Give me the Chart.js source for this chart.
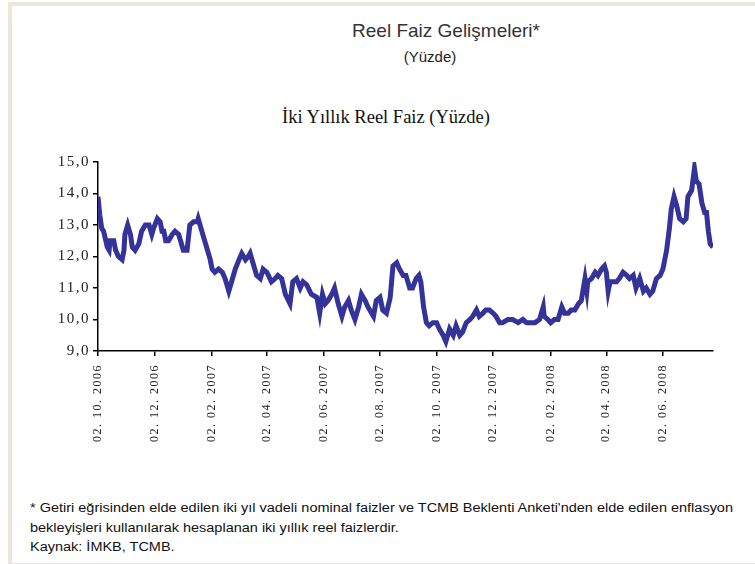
<!DOCTYPE html>
<html lang="tr">
<head>
<meta charset="utf-8">
<script src="https://cdn.jsdelivr.net/npm/chart.js@4/dist/chart.umd.min.js"></script>
<style>
    html, body { margin: 0; padding: 0; background: #fff; }
    body { width: 755px; height: 564px; position: relative; overflow: hidden; }
    .frame { position: absolute; left: 8px; top: 2px; right: -10px; bottom: 0;
             border-left: 4px solid #ece7d8; border-top: 4px solid #ece7d8;
             border-bottom: 1px solid #e4e4e4; }
    .t { position: absolute; white-space: nowrap; color: #333; }
    #title { left: 446px; top: 20px; transform: translateX(-50%);
             font: 19px 'Liberation Sans', Arial, sans-serif; }
    #unit { left: 430px; top: 48px; transform: translateX(-50%);
            font: 15px 'Liberation Sans', Arial, sans-serif; color: #222; }
    #sub { left: 386px; top: 107px; transform: translateX(-50%);
           font: 18.5px 'Liberation Serif', 'Times New Roman', serif; color: #111; }
    .note { left: 30px; font: 12px 'Liberation Sans', Arial, sans-serif; color: #111;
            transform-origin: 0 0; }
    #chartBox { position: absolute; left: 0; top: 150px; width: 725px; height: 320px; }
</style>
</head>
<body>
<div class="frame"></div>
<div class="t" id="title">Reel Faiz Gelişmeleri*</div>
<div class="t" id="unit">(Yüzde)</div>
<div class="t" id="sub">İki Yıllık Reel Faiz (Yüzde)</div>
<div id="chartBox"><canvas id="realRate"></canvas></div>
<div class="t note" id="n1" style="top:501px">* Getiri eğrisinden elde edilen iki yıl vadeli nominal faizler ve TCMB Beklenti Anketi'nden elde edilen enflasyon</div>
<div class="t note" id="n2" style="top:521px">bekleyişleri kullanılarak hesaplanan iki yıllık reel faizlerdir.</div>
<div class="t note" id="n3" style="top:540px">Kaynak: İMKB, TCMB.</div>

<script>
// days counted from 02.10.2006
const days = [
    0, 2, 4, 6, 10, 12, 13, 17, 19, 22, 26, 28, 29, 32, 35, 37, 40, 44, 47, 51,
    55, 58, 60, 64, 67, 69, 71, 73, 76, 80, 83, 87, 89, 92, 96, 99, 103, 107, 108, 110,
    114, 117, 121, 123, 126, 130, 134, 137, 141, 144, 148, 152, 155, 159, 162,
    164, 167, 171, 175, 178, 182, 187, 191, 194, 198, 202, 207, 210, 214, 218,
    221, 225, 230, 236, 239, 242, 245, 248, 252, 255, 259, 263, 266, 270, 273,
    277, 281, 284, 288, 291, 297, 300, 304, 307, 311, 315, 318, 322, 325, 329,
    332, 336, 339, 343, 346, 348, 351, 354, 357, 361, 365, 368, 372, 375, 379,
    383, 386, 390, 393, 397, 401, 404, 408, 411, 415, 418, 422, 426, 429, 433,
    436, 442, 447, 453, 458, 462, 465, 471, 476, 480, 481, 485, 488, 492,
    496, 500, 503, 507, 510, 514, 518, 521, 525, 527, 528, 532, 536, 539, 543,
    546, 548, 550, 552, 555, 559, 562, 566, 570, 573, 577, 580, 584, 588, 591,
    595, 598, 602, 606, 609, 613, 616, 618, 621, 624, 627, 631, 634, 636, 640,
    643, 645, 648, 651, 654, 656, 658, 660, 663
];

const realRate = [
    13.9, 13.3, 12.9, 12.8, 12.3, 12.2, 12.5, 12.5, 12.2, 12.0, 11.9, 12.2, 12.7, 13.0, 12.7, 12.3, 12.2, 12.4, 12.8, 13.0,
    13.0, 12.7, 12.9, 13.2, 13.1, 12.8, 12.8, 12.5, 12.5, 12.7, 12.8, 12.7, 12.5, 12.2, 12.2, 13.0, 13.1, 13.1, 13.2, 13.0,
    12.6, 12.3, 11.9, 11.6, 11.5, 11.6, 11.5, 11.3, 10.9, 11.2, 11.6, 11.9, 12.1, 11.9, 12.0,
    12.1, 11.8, 11.4, 11.3, 11.6, 11.5, 11.2, 11.3, 11.4, 11.3, 10.8, 10.5, 11.2, 11.3, 11.0,
    11.2, 11.1, 10.8, 10.7, 10.2, 10.8, 10.5, 10.6, 10.8, 11.0, 10.5, 10.1, 10.4, 10.6, 10.3,
    10.0, 10.4, 10.8, 10.6, 10.4, 10.1, 10.6, 10.7, 10.3, 10.2, 10.7, 11.7, 11.8, 11.6, 11.4,
    11.4, 11.0, 11.0, 11.3, 11.4, 11.2, 10.4, 9.9, 9.8, 9.9, 9.9, 9.7, 9.5, 9.3, 9.7,
    9.5, 9.8, 9.5, 9.6, 9.9, 10.0, 10.1, 10.3, 10.1, 10.2, 10.3, 10.3, 10.2, 10.1, 9.9,
    9.9, 10.0, 10.0, 9.9, 10.0, 9.9, 9.9, 9.9, 10.0, 10.4, 10.1, 10.0, 9.9, 10.0,
    10.0, 10.4, 10.2, 10.2, 10.3, 10.3, 10.5, 10.6, 11.3, 10.9, 11.2, 11.3, 11.5, 11.4, 11.6,
    11.7, 11.5, 10.9, 11.2, 11.2, 11.2, 11.3, 11.5, 11.4, 11.3, 11.4, 11.0, 11.3, 10.9, 11.0,
    10.8, 10.9, 11.3, 11.4, 11.6, 12.2, 12.9, 13.5, 13.9, 13.6, 13.2, 13.1, 13.2, 13.9, 14.1,
    14.8, 14.4, 14.3, 13.7, 13.4, 13.4, 12.8, 12.4, 12.3
];

const tickDays = [0, 61, 123, 182, 243, 304, 365, 426, 488, 548, 609];
const tickLabels = ['02. 10. 2006', '02. 12. 2006', '02. 02. 2007', '02. 04. 2007', '02. 06. 2007',
    '02. 08. 2007', '02. 10. 2007', '02. 12. 2007', '02. 02. 2008', '02. 04. 2008', '02. 06. 2008'];

const yTicks = [9, 10, 11, 12, 13, 14, 15];

const serif = "'Liberation Serif', 'Times New Roman', serif";

// the original tick labels are widely spaced
const spacing = {
    id: 'spacing',
    beforeDraw: c => { c.ctx.letterSpacing = '1.5px'; },
    beforeDatasetsDraw: c => { c.ctx.letterSpacing = '0px'; }
};

new Chart(document.getElementById('realRate'), {
    type: 'line',
    data: {
        datasets: [{
            data: days.map((d, i) => ({ x: d, y: realRate[i] })),
            borderColor: '#333399',
            borderWidth: 5,
            pointRadius: 0,
            tension: 0,
            fill: false
        }]
    },
    plugins: [spacing],
    options: {
        responsive: true,
        maintainAspectRatio: false,
        animation: false,
        layout: { padding: { top: 9, right: 12, left: 0, bottom: 0 } },
        plugins: { legend: { display: false }, tooltip: { enabled: false } },
        scales: {
            x: {
                type: 'linear',
                min: 0,
                max: 663,
                afterBuildTicks: s => { s.ticks = tickDays.map(v => ({ value: v })); },
                afterFit: s => { s.height = 119; },
                grid: { drawOnChartArea: false, drawTicks: true, tickLength: 5, color: '#000', lineWidth: 1.5 },
                border: { color: '#000', width: 1.5 },
                ticks: {
                    autoSkip: false,
                    minRotation: 90,
                    maxRotation: 90,
                    padding: 8,
                    color: '#222',
                    font: { family: serif, size: 12 },
                    callback: v => tickLabels[tickDays.indexOf(v)] || ''
                }
            },
            y: {
                min: 9,
                max: 15,
                afterBuildTicks: s => { s.ticks = yTicks.map(v => ({ value: v })); },
                afterFit: s => { s.width = 98; },
                grid: { drawOnChartArea: false, drawTicks: true, tickLength: 5, color: '#000', lineWidth: 1.5 },
                border: { color: '#000', width: 1.5 },
                ticks: {
                    padding: 3,
                    color: '#222',
                    font: { family: serif, size: 15 },
                    callback: v => v.toFixed(1).replace('.', ',')
                }
            }
        }
    }
});

// squeeze the footnote to the narrow width of the original
const n1 = document.getElementById('n1');
const k = 703 / n1.getBoundingClientRect().width;
document.querySelectorAll('.note').forEach(el => { el.style.transform = 'scaleX(' + k + ')'; });
</script>
</body>
</html>
